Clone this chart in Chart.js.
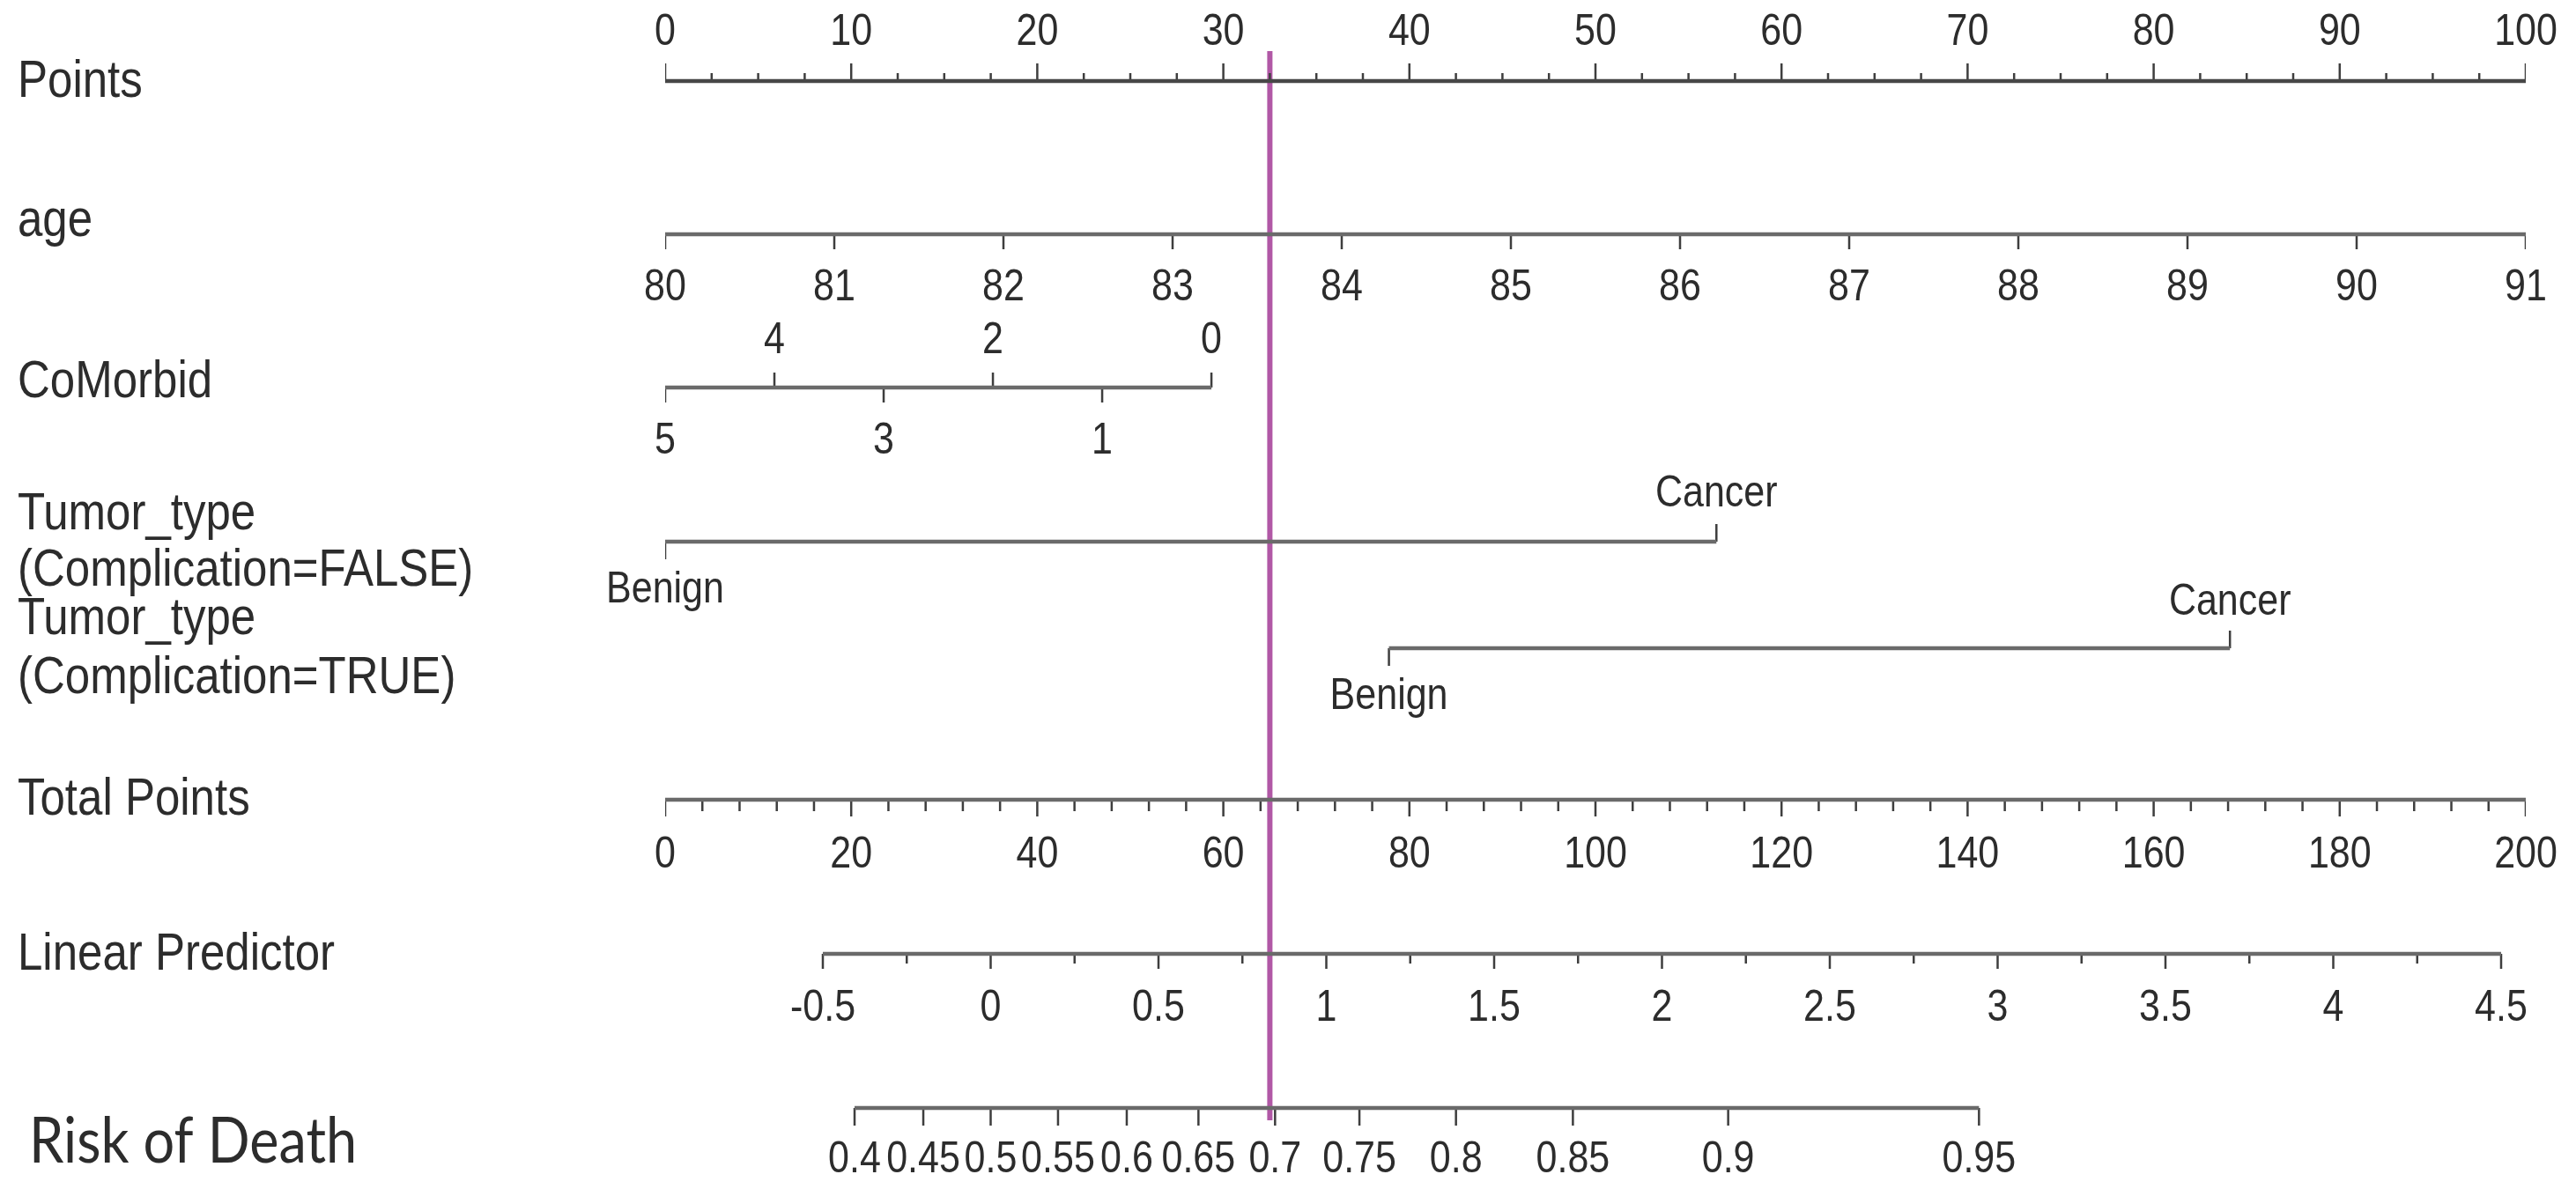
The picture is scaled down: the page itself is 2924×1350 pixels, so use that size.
<!DOCTYPE html>
<html><head><meta charset="utf-8">
<script src="https://cdn.jsdelivr.net/npm/chart.js@4"></script>
<style>html,body{margin:0;padding:0;background:#fff;}canvas{display:block}</style>
</head><body>
<canvas id="c" width="2924" height="1350"></canvas>
<script>
// ---------- data ----------
const pointsTicks = [0,10,20,30,40,50,60,70,80,90,100];
const pointsMinorStep = 2.5;
const ageTicks = [80,81,82,83,84,85,86,87,88,89,90,91];
const comorbidTicks = [5,4,3,2,1,0];
const comorbidAbove = [4,2,0];
const tumorLevels = ['Benign','Cancer'];
const tumorFalsePoints = [0, 56.5];
const tumorTruePoints = [38.9, 84.1];
const totalPointsTicks = [0,20,40,60,80,100,120,140,160,180,200];
const totalMinorStep = 4;
const lpTicks = [-0.5,0,0.5,1,1.5,2,2.5,3,3.5,4,4.5];
const lpMinorStep = 0.25;
const riskTicks = [0.4,0.45,0.5,0.55,0.6,0.65,0.7,0.75,0.8,0.85,0.9,0.95];
const markerPoints = 32.5;
const rowLabels = [
  ['Points'], ['age'], ['CoMorbid'],
  ['Tumor_type','(Complication=FALSE)'],
  ['Tumor_type','(Complication=TRUE)'],
  ['Total Points'], ['Linear Predictor'], ['Risk of Death']
];

// ---------- layout (pixels on the vertical helper scale) ----------
const ROW = {pts:92, age:266, com:440, tf:615, tt:736, tot:908, lp:1083, risk:1258};
const LINE = '#6a6a6a', TICK = '#3e3e3e', TXT = '#2c2c2c';

const logit = p => Math.log(p/(1-p));
const range = (a,b,s) => { const r=[]; for(let v=a; v<=b+1e-9; v+=s) r.push(+v.toFixed(4)); return r; };

function axisLine(id, from, to, y, color, w){
  return {xAxisID:id, yAxisID:'y', data:[{x:from,y:y},{x:to,y:y}], borderColor:color, borderWidth:w,
          showLine:true, pointRadius:0, spanGaps:false, borderCapStyle:'butt'};
}
function tickSet(id, vals, y, len, color, w){
  const d=[]; vals.forEach(v=>{ d.push({x:v,y:y},{x:v,y:y+len},{x:v,y:null}); });
  return {xAxisID:id, yAxisID:'y', data:d, borderColor:color||TICK, borderWidth:w||2.5,
          showLine:true, pointRadius:0, spanGaps:false, borderCapStyle:'butt'};
}

const datasets = [];
// Points
datasets.push(axisLine('xPts', 0, 100, ROW.pts, '#474747', 4.5));
datasets.push(tickSet('xPts', range(0,100,pointsMinorStep).filter(v=>!pointsTicks.includes(v)), ROW.pts, -9));
datasets.push(tickSet('xPts', pointsTicks, ROW.pts, -20));
// age
datasets.push(axisLine('xAge', ageTicks[0], ageTicks[ageTicks.length-1], ROW.age, LINE, 4.5));
datasets.push(tickSet('xAge', ageTicks, ROW.age, 17));
// CoMorbid
datasets.push(axisLine('xCom', comorbidTicks[0], comorbidTicks[comorbidTicks.length-1], ROW.com, LINE, 4.5));
datasets.push(tickSet('xCom', comorbidTicks.filter(v=>comorbidAbove.includes(v)), ROW.com, -17));
datasets.push(tickSet('xCom', comorbidTicks.filter(v=>!comorbidAbove.includes(v)), ROW.com, 17));
// Tumor_type FALSE
datasets.push(axisLine('xPts', tumorFalsePoints[0], tumorFalsePoints[1], ROW.tf, LINE, 4.5));
datasets.push(tickSet('xPts', [tumorFalsePoints[0]], ROW.tf, 20));
datasets.push(tickSet('xPts', [tumorFalsePoints[1]], ROW.tf, -20));
// Tumor_type TRUE
datasets.push(axisLine('xPts', tumorTruePoints[0], tumorTruePoints[1], ROW.tt, LINE, 4.5));
datasets.push(tickSet('xPts', [tumorTruePoints[0]], ROW.tt, 20));
datasets.push(tickSet('xPts', [tumorTruePoints[1]], ROW.tt, -20));
// Total Points
datasets.push(axisLine('xTot', 0, 200, ROW.tot, LINE, 4.5));
datasets.push(tickSet('xTot', range(0,200,totalMinorStep).filter(v=>!totalPointsTicks.includes(v)), ROW.tot, 13));
datasets.push(tickSet('xTot', totalPointsTicks, ROW.tot, 19));
// Linear Predictor
datasets.push(axisLine('xLP', lpTicks[0], lpTicks[lpTicks.length-1], ROW.lp, LINE, 4.5));
datasets.push(tickSet('xLP', range(-0.5,4.5,lpMinorStep).filter(v=>!lpTicks.includes(v)), ROW.lp, 11));
datasets.push(tickSet('xLP', lpTicks, ROW.lp, 17));
// Risk of Death
datasets.push(axisLine('xLP', logit(riskTicks[0]), logit(riskTicks[riskTicks.length-1]), ROW.risk, LINE, 4.5));
datasets.push(tickSet('xLP', riskTicks.map(logit), ROW.risk, 20));
// marker line
datasets.push({xAxisID:'xPts', yAxisID:'y', data:[{x:markerPoints,y:58},{x:markerPoints,y:1272}],
  borderColor:'#b158a6', borderWidth:6, showLine:true, pointRadius:0, borderCapStyle:'butt'});

const TICKFONT = '43px "Liberation Sans", Arial, Helvetica, sans-serif';
const LABFONT = '51px "Liberation Sans", Arial, Helvetica, sans-serif';
const STRETCH = 1.15;

const textPlugin = {
  id:'nomoText',
  afterDraw(chart){
    const ctx = chart.ctx, s = chart.scales;
    const put = (t,x,y)=>{ ctx.save(); ctx.translate(x,y); ctx.scale(1,STRETCH); ctx.fillText(t,0,0); ctx.restore(); };
    ctx.save();
    ctx.fillStyle = TXT;
    ctx.textBaseline = 'alphabetic';
    // row labels
    ctx.font = LABFONT; ctx.textAlign = 'left';
    const lab = (t,y)=>put(t,20,y);
    lab(rowLabels[0][0],110);
    lab(rowLabels[1][0],268);
    lab(rowLabels[2][0],451);
    lab(rowLabels[3][0],601); lab(rowLabels[3][1],665);
    lab(rowLabels[4][0],720); lab(rowLabels[4][1],787);
    lab(rowLabels[5][0],925);
    lab(rowLabels[6][0],1101);
    ctx.font = '63px Lato, "Open Sans", sans-serif';
    put(rowLabels[7][0],33,1320);
    // tick labels
    ctx.font = TICKFONT; ctx.textAlign = 'center';
    const tl = (id,v,txt,y)=>put(txt, s[id].getPixelForValue(v), y);
    pointsTicks.forEach(v=>tl('xPts',v,String(v),51));
    ageTicks.forEach(v=>tl('xAge',v,String(v),341));
    comorbidTicks.forEach(v=>tl('xCom',v,String(v), comorbidAbove.includes(v)?401:515));
    tl('xPts',tumorFalsePoints[0],tumorLevels[0],684);
    tl('xPts',tumorFalsePoints[1],tumorLevels[1],575);
    tl('xPts',tumorTruePoints[0],tumorLevels[0],805);
    tl('xPts',tumorTruePoints[1],tumorLevels[1],698);
    totalPointsTicks.forEach(v=>tl('xTot',v,String(v),985));
    lpTicks.forEach(v=>tl('xLP',v,String(v),1159));
    riskTicks.forEach(v=>tl('xLP',logit(v),String(v),1331));
    ctx.restore();
  }
};

const hidden = {display:false, grid:{display:false}};
new Chart(document.getElementById('c'), {
  type:'scatter',
  data:{datasets},
  options:{
    responsive:false, animation:false, devicePixelRatio:1,
    layout:{padding:{left:755, right:57, top:0, bottom:0}},
    plugins:{legend:{display:false}, tooltip:{enabled:false}},
    scales:{
      xPts:{type:'linear', axis:'x', min:0, max:100, ...hidden},
      xAge:{type:'linear', axis:'x', min:80, max:91, ...hidden},
      xCom:{type:'linear', axis:'x', min:-12.03, max:5, reverse:true, ...hidden},
      xTot:{type:'linear', axis:'x', min:0, max:200, ...hidden},
      xLP:{type:'linear', axis:'x', min:-0.9698, max:4.5735, ...hidden},
      y:{type:'linear', axis:'y', min:0, max:1350, reverse:true, ...hidden}
    }
  },
  plugins:[textPlugin]
});
</script>
</body></html>
